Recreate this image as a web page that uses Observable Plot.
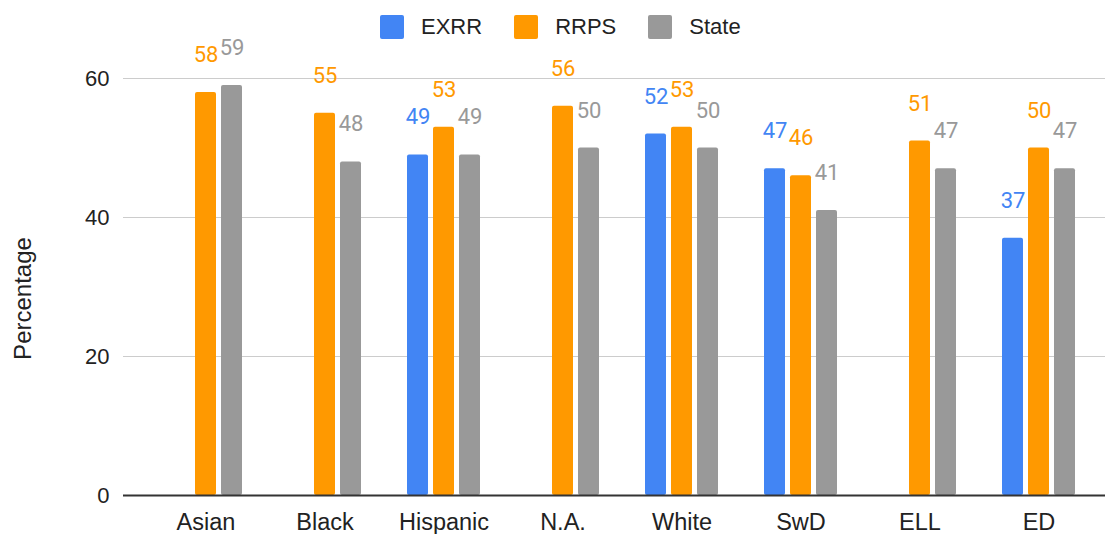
<!DOCTYPE html>
<html>
<head>
<meta charset="utf-8">
<script src="https://cdn.jsdelivr.net/npm/d3@7"></script>
<script src="https://cdn.jsdelivr.net/npm/@observablehq/plot@0.6"></script>
<style>
  html, body { margin: 0; padding: 0; background: #fff; }
  #wrap { position: relative; width: 1107px; height: 534px; overflow: hidden; }
  #legend { position: absolute; left: 380px; top: 14px; display: flex; align-items: center;
            font-family: "Liberation Sans", Arial, sans-serif; font-size: 22px; color: #222; }
  .item { display: flex; align-items: center; margin-right: 32px; }
  .sw { width: 24px; height: 24px; border-radius: 2px; margin-right: 17px; }
  svg { overflow: visible; }
</style>
</head>
<body>
<div id="wrap"><div id="legend"></div></div>
<script>
const groups = ["Asian", "Black", "Hispanic", "N.A.", "White", "SwD", "ELL", "ED"];
const series = ["EXRR", "RRPS", "State"];
const exrr  = [null, null, 49, null, 52, 47, null, 37];
const rrps  = [58, 55, 53, 56, 53, 46, 51, 50];
const state = [59, 48, 49, 50, 50, 41, 47, 47];
const colors = ["#4285F4", "#FF9900", "#999999"];
const yTicks = [0, 20, 40, 60];
const yLabel = "Percentage";

const values = [exrr, rrps, state];
const rows = [];
groups.forEach((g, i) => {
  series.forEach((s, j) => {
    const v = values[j][i];
    if (v != null) rows.push({group: g, series: s, value: v});
  });
});

// layout of the three bars inside each group band
const band = 119.5, barW = 21.5, step = 26;
const inset = (band - barW) / 2;

const seriesMarks = series.flatMap((s, j) => {
  const data = rows.filter(d => d.series === s);
  const off = (j - 1) * step;
  return [
    Plot.barY(data, {x: "group", y: "value", fill: colors[j], insetLeft: inset, insetRight: inset, dx: off, rx: 2}),
    Plot.text(data, {x: "group", y: "value", text: d => String(d.value), fill: colors[j],
      dx: off, dy: -37.5, fontSize: 22, fontFamily: "Roboto"})
  ];
});

const chart = Plot.plot({
  width: 1107,
  height: 534,
  marginTop: 78,
  marginBottom: 39,
  marginLeft: 123,
  marginRight: 2,
  style: {fontFamily: "'Liberation Sans', Arial, sans-serif", background: "transparent", overflow: "visible"},
  x: {domain: groups, range: [144.25, 1100.25], padding: 0, axis: null},
  y: {domain: [0, 60], axis: null},
  marks: [
    Plot.ruleY(yTicks.filter(t => t !== 0), {stroke: "#cccccc", strokeWidth: 1}),
    Plot.axisY({ticks: yTicks, tickSize: 0, tickPadding: 14, fontSize: 22, color: "#222", label: null}),
    Plot.text([yLabel], {text: d => d, frameAnchor: "left", textAnchor: "middle", rotate: -90, dx: -100, dy: 11.5,
      fontSize: 24, fill: "#222"}),
    ...seriesMarks,
    Plot.ruleY([0], {stroke: "#333333", strokeWidth: 2}),
    Plot.axisX({anchor: "bottom", tickSize: 0, tickPadding: 18, fontSize: 23.5, color: "#222", label: null})
  ]
});
document.getElementById("wrap").prepend(chart);

const legend = document.getElementById("legend");
series.forEach((s, j) => {
  const item = document.createElement("div");
  item.className = "item";
  const sw = document.createElement("div");
  sw.className = "sw";
  sw.style.background = colors[j];
  const t = document.createElement("span");
  t.textContent = s;
  item.append(sw, t);
  legend.append(item);
});
</script>
</body>
</html>
